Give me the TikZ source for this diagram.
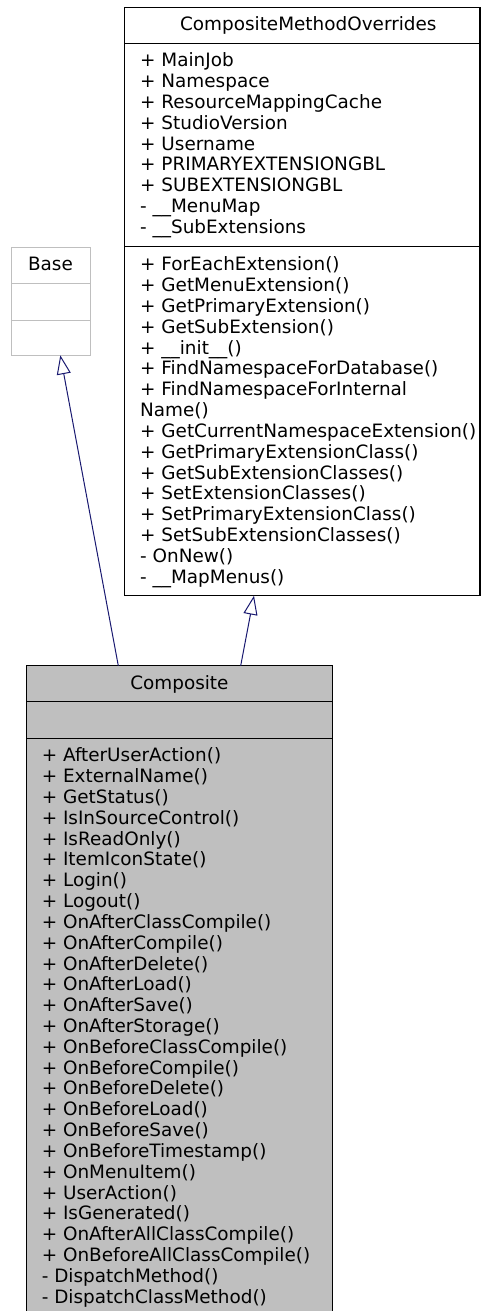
\documentclass[tikz,border=0pt]{standalone}
\usepackage{fontspec}
\setmainfont{DejaVu Sans}
\usetikzlibrary{arrows.meta,calc}
\definecolor{edgeblue}{HTML}{191970}
\definecolor{boxgray}{HTML}{BFBFBF}
\begin{document}
\begin{tikzpicture}[x=1pt,y=-1pt,
  font=\fontsize{18.4}{20.8}\selectfont,
  txt/.style={anchor=base west,inner sep=0pt,outer sep=0pt},
  ttl/.style={anchor=base,inner sep=0pt,outer sep=0pt},
  cmobox/.style={draw=black,line width=1.3pt,fill=white,rectangle,anchor=north west,inner sep=0pt,outer sep=0pt},
  basebox/.style={draw=boxgray,line width=1pt,fill=white,rectangle,anchor=north west,inner sep=0pt,outer sep=0pt},
  compbox/.style={draw=black,line width=1pt,fill=boxgray,rectangle,anchor=north west,inner sep=0pt,outer sep=0pt},
  inherit/.style={draw=edgeblue,line width=1pt,-{Triangle[open,length=19pt,width=14pt]}}]
\useasboundingbox (0,0) rectangle (481,1311);

% CompositeMethodOverrides
\node[cmobox,minimum width=355.7pt,minimum height=588.2pt] (cmo) at (124.3,7.5) {};
\draw[line width=1.3pt] ($(cmo.north west)+(0,35.8)$) -- ($(cmo.north east)+(0,35.8)$);
\draw[line width=1.3pt] ($(cmo.north west)+(0,239.2)$) -- ($(cmo.north east)+(0,239.2)$);
\node[ttl] (cmotitle) at (308.3,30.7) {CompositeMethodOverrides};
\foreach \t [count=\i] in {+ MainJob,+ Namespace,+ ResourceMappingCache,+ StudioVersion,+ Username,+ PRIMARYEXTENSIONGBL,+ SUBEXTENSIONGBL,- \_\_MenuMap,- \_\_SubExtensions}
  \node[txt] (cmoattr\i) at (140.2,{66.7+20.83*(\i-1)}) {\t};
\foreach \t [count=\i] in {+ ForEachExtension(),+ GetMenuExtension(),+ GetPrimaryExtension(),+ GetSubExtension(),+ \_\_init\_\_(),+ FindNamespaceForDatabase(),+ FindNamespaceForInternal,Name(),+ GetCurrentNamespaceExtension(),+ GetPrimaryExtensionClass(),+ GetSubExtensionClasses(),+ SetExtensionClasses(),+ SetPrimaryExtensionClass(),+ SetSubExtensionClasses(),- OnNew(),- \_\_MapMenus()}
  \node[txt] (cmometh\i) at (140.2,{270.7+20.83*(\i-1)}) {\t};

% Base
\node[basebox,minimum width=78.3pt,minimum height=108pt] (base) at (11.7,247.3) {};
\draw[boxgray,line width=1pt] ($(base.north west)+(0,36)$) -- ($(base.north east)+(0,36)$);
\draw[boxgray,line width=1pt] ($(base.north west)+(0,72.7)$) -- ($(base.north east)+(0,72.7)$);
\node[ttl] (basetitle) at (50.5,270.7) {Base};

% Composite
\node[compbox,minimum width=305.6pt,minimum height=650pt] (comp) at (26.7,665.7) {};
\draw[line width=1pt] ($(comp.north west)+(0,36)$) -- ($(comp.north east)+(0,36)$);
\draw[line width=1pt] ($(comp.north west)+(0,72.6)$) -- ($(comp.north east)+(0,72.6)$);
\node[ttl] (comptitle) at (179.4,689) {Composite};
\foreach \t [count=\i] in {+ AfterUserAction(),+ ExternalName(),+ GetStatus(),+ IsInSourceControl(),+ IsReadOnly(),+ ItemIconState(),+ Login(),+ Logout(),+ OnAfterClassCompile(),+ OnAfterCompile(),+ OnAfterDelete(),+ OnAfterLoad(),+ OnAfterSave(),+ OnAfterStorage(),+ OnBeforeClassCompile(),+ OnBeforeCompile(),+ OnBeforeDelete(),+ OnBeforeLoad(),+ OnBeforeSave(),+ OnBeforeTimestamp(),+ OnMenuItem(),+ UserAction(),+ IsGenerated(),+ OnAfterAllClassCompile(),+ OnBeforeAllClassCompile(),- DispatchMethod(),- DispatchClassMethod()}
  \node[txt] (compmeth\i) at (41.8,{761.7+20.83*(\i-1)}) {\t};

% Inheritance connectors
\draw[inherit] ($(comp.north west)+(91.6,0)$) -- ($(base.south west)+(48.6,0)$);
\draw[inherit] ($(comp.north west)+(214,0)$) -- ($(cmo.south west)+(129.7,0)$);
\end{tikzpicture}
\end{document}
